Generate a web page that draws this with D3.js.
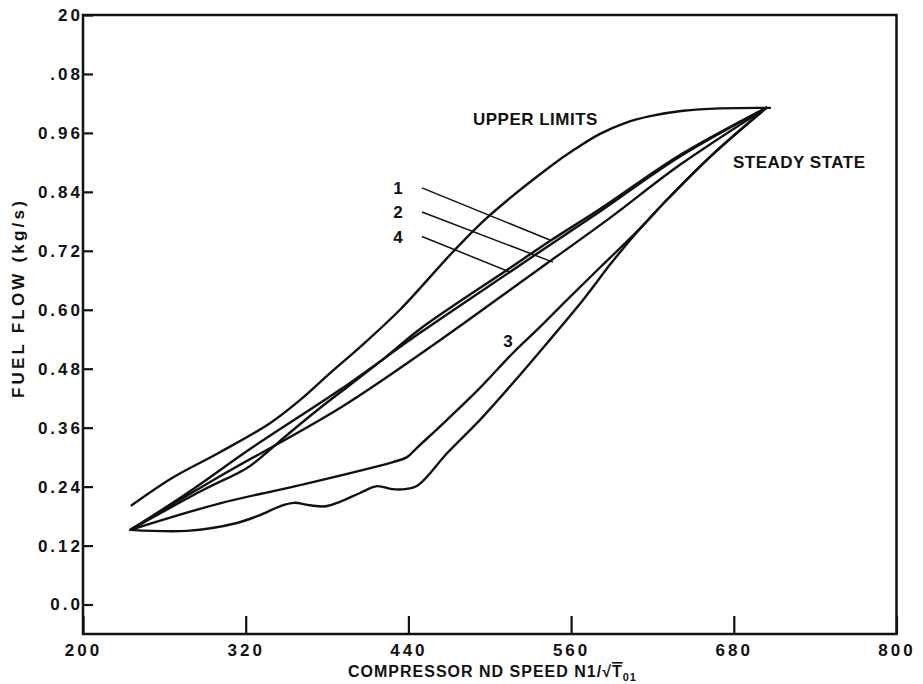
<!DOCTYPE html>
<html>
<head>
<meta charset="utf-8">
<script src="https://cdnjs.cloudflare.com/ajax/libs/d3/7.8.5/d3.min.js"></script>
<style>
body { margin: 0; background: #fff; }
text { font-family: "Liberation Sans", Arial, sans-serif; font-weight: bold; fill: #111; }
</style>
</head>
<body>
<svg id="chart"></svg>
<script>
"use strict";

// axis ticks
const xTicks = [200, 320, 440, 560, 680, 800];
const yTicks = [0, 0.12, 0.24, 0.36, 0.48, 0.60, 0.72, 0.84, 0.96, 1.08, 1.20];
const yTickLabels = ["0.0", "0.12", "0.24", "0.36", "0.48", "0.60", "0.72", "0.84", "0.96", ".08", "20"];

// curves: [speed, fuel flow]
const upperLimits = [[235.9,0.202],[266.6,0.259],[301.0,0.310],[337.9,0.369],[360.0,0.416],[382.2,0.471],[404.3,0.524],[433.8,0.600],[472.9,0.718],[498.7,0.789],[544.4,0.891],[562.9,0.927],[581.3,0.958],[599.7,0.980],[618.2,0.994],[642.6,1.005],[670.0,1.010],[706.7,1.011]];
const curve1 = [[235.0,0.152],[276.5,0.226],[325.6,0.321],[389.5,0.437],[448.6,0.553],[514.9,0.677],[544.4,0.732],[581.3,0.800],[640.3,0.912],[704,1.011]];
const curve4 = [[235.0,0.152],[288.5,0.233],[321.0,0.278],[335.7,0.310],[350.5,0.345],[374.8,0.400],[396.9,0.447],[422.7,0.502],[448.6,0.561],[514.9,0.685],[544.4,0.740],[581.3,0.805],[640.3,0.915],[704,1.011]];
const curve2 = [[235.0,0.152],[301.0,0.261],[389.5,0.400],[463.3,0.538],[522.3,0.655],[541.5,0.693],[588.7,0.787],[640.3,0.895],[704,1.011]];
const kneeCurve = [[235.0,0.152],[301.0,0.206],[360.0,0.243],[428.6,0.290],[439.0,0.300],[446.3,0.319],[468.5,0.376],[492.8,0.441],[517.1,0.512],[537.1,0.565],[557.0,0.620],[581.3,0.686],[610.8,0.765],[630.7,0.824],[663.9,0.915],[704,1.011]];
const lowCurve = [[235.0,0.152],[276.7,0.150],[313.6,0.166],[330.5,0.182],[345.3,0.200],[355.6,0.207],[367.4,0.202],[379.2,0.200],[389.5,0.209],[404.3,0.227],[416.8,0.241],[427.9,0.235],[437.5,0.235],[447.1,0.243],[468.5,0.308],[492.8,0.376],[517.1,0.451],[542.2,0.532],[568.8,0.620],[590.2,0.697],[610.8,0.765],[630.7,0.824],[663.9,0.915],[704,1.011]];

// numbered leader lines
const leaderNames = ["1", "2", "4"];
const leaderFrom = [[450.0,0.848],[450.0,0.799],[450.0,0.749]];
const leaderTo = [[544.4,0.742],[546.6,0.697],[514.9,0.677]];

const width = 923, height = 684;
const margin = {top: 15, right: 26.5, bottom: 50, left: 83};

const svg = d3.select("#chart").attr("width", width).attr("height", height);

const x = d3.scaleLinear().domain([200, 800]).range([margin.left, width - margin.right]);
const y = d3.scaleLinear().domain([-0.06, 1.2]).range([height - margin.bottom, margin.top]);

// frame
svg.append("rect")
  .attr("x", margin.left)
  .attr("y", margin.top)
  .attr("width", width - margin.left - margin.right)
  .attr("height", height - margin.top - margin.bottom)
  .attr("fill", "none")
  .attr("stroke", "#111")
  .attr("stroke-width", 2.5);

svg.append("g")
  .attr("transform", `translate(${margin.left},0)`)
  .call(d3.axisLeft(y).tickValues(yTicks).tickFormat((d, i) => yTickLabels[i]).tickSize(-10).tickPadding(0))
  .call(g => g.select(".domain").remove())
  .attr("font-family", null).attr("font-size", 17)
  .call(g => g.selectAll("line").attr("stroke", "#111").attr("stroke-width", 2.2))
  .call(g => g.selectAll("text").attr("fill", "#111").attr("letter-spacing", 3));

svg.append("g")
  .attr("transform", `translate(0,${height - margin.bottom})`)
  .call(d3.axisBottom(x).tickValues(xTicks).tickFormat(d3.format("d")).tickSize(-18).tickPadding(10))
  .call(g => g.select(".domain").remove())
  .attr("font-family", null).attr("font-size", 17)
  .call(g => g.selectAll("line").attr("stroke", "#111").attr("stroke-width", 2.2))
  .call(g => g.selectAll("text").attr("fill", "#111").attr("letter-spacing", 3));

// curves
const line = d3.line()
  .x(d => x(d[0]))
  .y(d => y(d[1]))
  .curve(d3.curveCatmullRom.alpha(0.5));

svg.append("g")
  .selectAll("path")
  .data([upperLimits, curve1, curve4, curve2, kneeCurve, lowCurve])
  .enter()
  .append("path")
  .attr("d", line)
  .attr("fill", "none")
  .attr("stroke", "#111")
  .attr("stroke-width", 2.4)
  .attr("stroke-linejoin", "round")
  .attr("stroke-linecap", "round");

// leaders
svg.append("g")
  .selectAll("line")
  .data(leaderNames)
  .enter()
  .append("line")
  .attr("x1", (d, i) => x(leaderFrom[i][0]))
  .attr("y1", (d, i) => y(leaderFrom[i][1]))
  .attr("x2", (d, i) => x(leaderTo[i][0]))
  .attr("y2", (d, i) => y(leaderTo[i][1]))
  .attr("stroke", "#111")
  .attr("stroke-width", 1.5);

svg.append("g")
  .selectAll("text")
  .data(leaderNames)
  .enter()
  .append("text")
  .attr("x", (d, i) => x(leaderFrom[i][0]) - 24)
  .attr("y", (d, i) => y(leaderFrom[i][1]))
  .attr("dy", "0.36em")
  .attr("text-anchor", "middle")
  .attr("font-size", 17)
  .text(d => d);

svg.append("text")
  .attr("x", x(513.4)).attr("y", y(0.524))
  .attr("text-anchor", "middle")
  .attr("font-size", 17)
  .text("3");

svg.append("text")
  .attr("x", x(487.6)).attr("y", y(0.977))
  .attr("font-size", 17)
  .attr("letter-spacing", 0.5)
  .text("UPPER LIMITS");

svg.append("text")
  .attr("x", x(679.4)).attr("y", y(0.889))
  .attr("font-size", 17)
  .attr("letter-spacing", 0.5)
  .text("STEADY STATE");

// axis titles
svg.append("text")
  .attr("transform", "translate(24,298) rotate(-90)")
  .attr("text-anchor", "middle")
  .attr("font-size", 17)
  .attr("letter-spacing", 3.2)
  .text("FUEL FLOW (kg/s)");

const xTitle = svg.append("text")
  .attr("x", 348).attr("y", 677)
  .attr("font-size", 16)
  .attr("letter-spacing", 1);
xTitle.append("tspan").text("COMPRESSOR ND SPEED N1/√");
xTitle.append("tspan").attr("text-decoration", "overline").text("T");
xTitle.append("tspan").attr("font-size", 11).attr("dy", 4).text("01");
</script>
</body>
</html>
